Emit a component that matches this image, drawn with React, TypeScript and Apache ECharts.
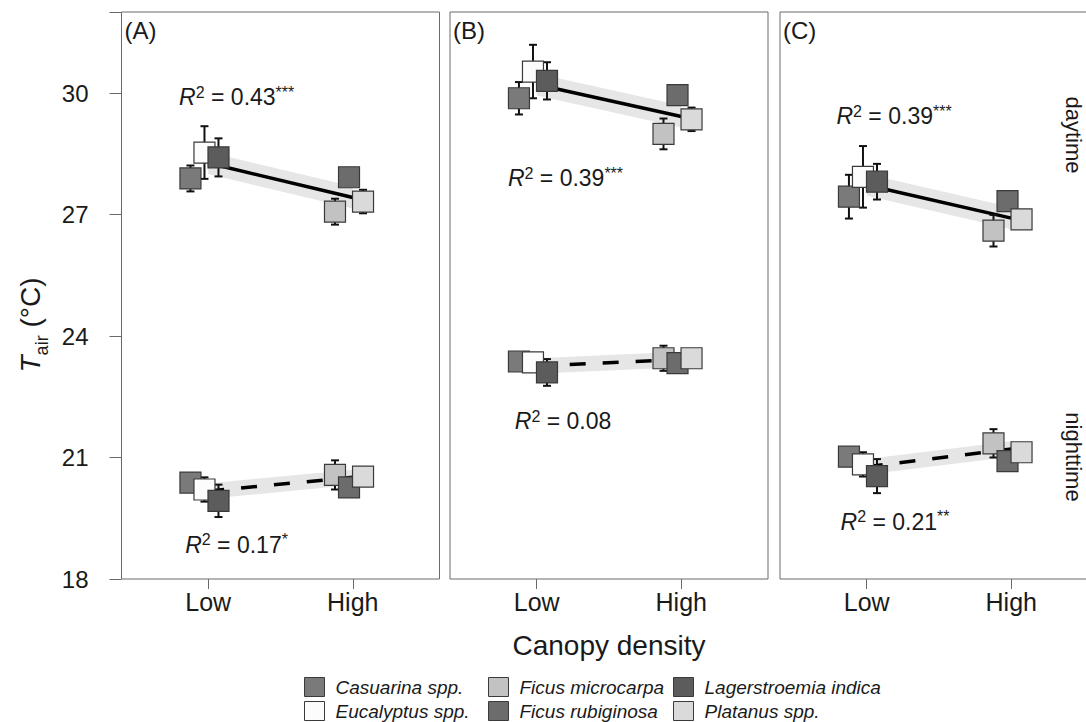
import React, { useEffect, useRef } from "react";
import * as echarts from "echarts";

// ---------- data ----------
const PANEL_LABELS = ["(A)", "(B)", "(C)"];
const DENSITY_LABELS = ["Low", "High"];
const DENSITY_VALUES = [1, 2];
const Y_MIN = 18;
const Y_MAX = 32;
const Y_STEP = 3;

const SPECIES = [
  "Casuarina spp.",
  "Eucalyptus spp.",
  "Ficus microcarpa",
  "Ficus rubiginosa",
  "Lagerstroemia indica",
  "Platanus spp.",
];
// 1 = Low canopy density, 2 = High canopy density
const SPECIES_DENSITY = [1, 1, 2, 2, 1, 2];
const SPECIES_COLORS = ["#7a7a7a", "#fcfcfc", "#c2c2c2", "#6c6c6c", "#5c5c5c", "#dadada"];

// daytime means / standard errors (species order as SPECIES)
const DAY_MEAN_A = [27.89, 28.53, 27.07, 27.92, 28.41, 27.32];
const DAY_SE_A = [0.32, 0.65, 0.32, 0.15, 0.47, 0.29];
const DAY_MEAN_B = [29.87, 30.53, 28.99, 29.95, 30.3, 29.35];
const DAY_SE_B = [0.4, 0.66, 0.38, 0.12, 0.46, 0.29];
const DAY_MEAN_C = [27.44, 27.93, 26.6, 27.33, 27.81, 26.88];
const DAY_SE_C = [0.54, 0.76, 0.39, 0.12, 0.44, 0.15];

// nighttime means / standard errors
const NIGHT_MEAN_A = [20.38, 20.21, 20.57, 20.26, 19.93, 20.53];
const NIGHT_SE_A = [0.15, 0.3, 0.36, 0.12, 0.4, 0.12];
const NIGHT_MEAN_B = [23.37, 23.35, 23.45, 23.33, 23.1, 23.45];
const NIGHT_SE_B = [0.1, 0.2, 0.31, 0.1, 0.33, 0.1];
const NIGHT_MEAN_C = [21.02, 20.83, 21.35, 20.91, 20.54, 21.13];
const NIGHT_SE_C = [0.12, 0.3, 0.35, 0.12, 0.42, 0.12];

// fitted regression values at Low / High, and band half-widths
const FIT_DAY = [
  [28.27, 27.42],
  [30.21, 29.42],
  [27.73, 26.91],
];
const FIT_NIGHT = [
  [20.17, 20.51],
  [23.26, 23.42],
  [20.77, 21.21],
];
const BAND_DAY = [0.27, 0.27, 0.27];
const BAND_NIGHT = [0.19, 0.19, 0.19];

const R2_DAY = ["0.43", "0.39", "0.39"];
const R2_DAY_SIG = ["***", "***", "***"];
const R2_NIGHT = ["0.17", "0.08", "0.21"];
const R2_NIGHT_SIG = ["*", "", "**"];
// annotation anchor positions in data units [x, y]
const R2_DAY_AT = [
  [1.197, 29.9],
  [1.199, 27.9],
  [1.189, 29.43],
];
const R2_NIGHT_AT = [
  [1.196, 18.84],
  [1.182, 21.9],
  [1.196, 19.41],
];

const DAY_MEANS = [DAY_MEAN_A, DAY_MEAN_B, DAY_MEAN_C];
const DAY_SES = [DAY_SE_A, DAY_SE_B, DAY_SE_C];
const NIGHT_MEANS = [NIGHT_MEAN_A, NIGHT_MEAN_B, NIGHT_MEAN_C];
const NIGHT_SES = [NIGHT_SE_A, NIGHT_SE_B, NIGHT_SE_C];

// ---------- layout ----------
const FONT = "'Liberation Sans', Arial, Helvetica, sans-serif";
const TXT = "#1a1a1a";
const GRID_LEFTS = [121.5, 450, 780];
const GRID_W = 318;
const GRID_TOP = 12;
const GRID_H = 567;
const X_MIN = 0.4;
const X_MAX = 2.6;
const DODGE_START = -0.123;
const DODGE_STEP = 0.097;

function dodgeX(s: number): number {
  let slot = 0;
  for (let k = 0; k < s; k++) if (SPECIES_DENSITY[k] === SPECIES_DENSITY[s]) slot++;
  return SPECIES_DENSITY[s] + DODGE_START + slot * DODGE_STEP;
}

function buildOption(): any {
  const grids = GRID_LEFTS.map((left) => ({
    left,
    top: GRID_TOP,
    width: GRID_W,
    height: GRID_H,
    show: true,
    borderColor: "#6a6a6a",
    borderWidth: 1,
    backgroundColor: "transparent",
    containLabel: false,
    outerBoundsMode: "none",
  }));

  const xAxes = GRID_LEFTS.map((_, p) => ({
    type: "value",
    gridIndex: p,
    min: X_MIN,
    max: X_MAX,
    axisLine: { show: false },
    splitLine: { show: false },
    axisTick: {
      show: true,
      customValues: DENSITY_VALUES,
      length: 10,
      lineStyle: { color: "#6a6a6a", width: 1 },
    },
    axisLabel: {
      show: true,
      customValues: DENSITY_VALUES,
      formatter: (v: number) => DENSITY_LABELS[DENSITY_VALUES.indexOf(Math.round(v))] ?? "",
      fontSize: 25,
      fontFamily: FONT,
      color: TXT,
      margin: 10,
    },
    name: p === 1 ? "Canopy density" : "",
    nameLocation: "middle",
    nameGap: 52,
    nameTextStyle: { fontSize: 28, fontFamily: FONT, color: TXT },
  }));

  const yAxes = GRID_LEFTS.map((_, p) => ({
    type: "value",
    gridIndex: p,
    min: Y_MIN,
    max: Y_MAX,
    interval: Y_STEP,
    axisLine: { show: false },
    splitLine: { show: false },
    axisTick: {
      show: p === 0,
      length: 12,
      lineStyle: { color: "#6a6a6a", width: 1 },
    },
    axisLabel: {
      show: p === 0,
      fontSize: 24,
      fontFamily: FONT,
      color: TXT,
      margin: 33,
      formatter: (v: number) => (v <= 30 ? String(v) : ""),
    },
  }));

  const series: any[] = [];

  const addPeriod = (
    p: number,
    means: number[],
    ses: number[],
    fit: number[],
    band: number,
    dashed: boolean,
    r2: string,
    sig: string,
    at: number[]
  ) => {
    // confidence band
    series.push({
      type: "custom",
      xAxisIndex: p,
      yAxisIndex: p,
      z: 1,
      silent: true,
      data: [[DENSITY_VALUES[0], fit[0], DENSITY_VALUES[1], fit[1], band]],
      renderItem: (params: any, api: any) => {
        const x0 = api.value(0), y0 = api.value(1), x1 = api.value(2), y1 = api.value(3), h = api.value(4);
        const pts = [
          api.coord([x0, y0 - h]),
          api.coord([x1, y1 - h]),
          api.coord([x1, y1 + h]),
          api.coord([x0, y0 + h]),
        ];
        return { type: "polygon", shape: { points: pts }, style: { fill: "#e6e6e6" } };
      },
    });
    // regression line
    series.push({
      type: "line",
      xAxisIndex: p,
      yAxisIndex: p,
      z: 2,
      silent: true,
      symbol: "none",
      data: [
        [DENSITY_VALUES[0], fit[0]],
        [DENSITY_VALUES[1], fit[1]],
      ],
      lineStyle: { color: "#000", width: 3.5, type: dashed ? [16, 17] : "solid", cap: "butt", opacity: 1 },
    });
    // error bars
    series.push({
      type: "custom",
      xAxisIndex: p,
      yAxisIndex: p,
      z: 3,
      silent: true,
      data: SPECIES.map((_, s) => [dodgeX(s), means[s], means[s] - ses[s], means[s] + ses[s]]),
      encode: { x: 0, y: [1, 2, 3] },
      renderItem: (params: any, api: any) => {
        const x = api.value(0);
        const lo = api.coord([x, api.value(2)]);
        const hi = api.coord([x, api.value(3)]);
        const w = 4;
        const st = { stroke: "#111", lineWidth: 2 };
        return {
          type: "group",
          children: [
            { type: "line", shape: { x1: lo[0], y1: lo[1], x2: hi[0], y2: hi[1] }, style: st },
            { type: "line", shape: { x1: lo[0] - w, y1: lo[1], x2: lo[0] + w, y2: lo[1] }, style: st },
            { type: "line", shape: { x1: hi[0] - w, y1: hi[1], x2: hi[0] + w, y2: hi[1] }, style: st },
          ],
        };
      },
    });
    // mean squares
    SPECIES.forEach((name, s) => {
      series.push({
        type: "scatter",
        name,
        xAxisIndex: p,
        yAxisIndex: p,
        z: 4,
        silent: true,
        symbol: "rect",
        symbolSize: 21,
        data: [[dodgeX(s), means[s]]],
        itemStyle: { color: SPECIES_COLORS[s], borderColor: "#3a3a3a", borderWidth: 1.2, opacity: 1 },
      });
    });
    // R² annotation
    series.push({
      type: "scatter",
      xAxisIndex: p,
      yAxisIndex: p,
      z: 5,
      silent: true,
      symbolSize: 1,
      itemStyle: { color: "rgba(255,255,255,0)", opacity: 1 },
      data: [at],
      label: {
        show: true,
        position: "inside",
        color: TXT,
        opacity: 1,
        formatter: "{i|R}{sup|2}{n| = " + r2 + "}" + (sig ? "{sup|" + sig + "}" : ""),
        rich: {
          i: { fontSize: 23, fontStyle: "italic", fontFamily: FONT, color: TXT, lineHeight: 26 },
          n: { fontSize: 23, fontFamily: FONT, color: TXT, lineHeight: 26 },
          sup: { fontSize: 16, fontFamily: FONT, color: TXT, verticalAlign: "top", lineHeight: 16 },
        },
      },
    });
  };

  for (let p = 0; p < 3; p++) {
    addPeriod(p, DAY_MEANS[p], DAY_SES[p], FIT_DAY[p], BAND_DAY[p], false, R2_DAY[p], R2_DAY_SIG[p], R2_DAY_AT[p]);
    addPeriod(p, NIGHT_MEANS[p], NIGHT_SES[p], FIT_NIGHT[p], BAND_NIGHT[p], true, R2_NIGHT[p], R2_NIGHT_SIG[p], R2_NIGHT_AT[p]);
  }

  // legend: 3 columns x 2 rows, filled column by column
  const legendLefts = [304, 488, 673];
  const legendTops = [677, 701];
  const legends = SPECIES.map((name, s) => ({
    show: true,
    orient: "horizontal",
    left: legendLefts[Math.floor(s / 2)],
    top: legendTops[s % 2],
    padding: 0,
    itemWidth: 20,
    itemHeight: 19,
    icon: "rect",
    selectedMode: false,
    data: [name],
    itemStyle: { borderColor: "#3a3a3a", borderWidth: 1 },
    textStyle: { fontSize: 19, fontStyle: "italic", fontFamily: FONT, color: TXT, padding: [0, 0, 0, 6] },
  }));

  const graphic: any[] = [];
  PANEL_LABELS.forEach((t, p) => {
    graphic.push({
      type: "text",
      left: GRID_LEFTS[p] + 3,
      top: GRID_TOP + 6,
      style: { text: t, fontSize: 24, fontFamily: FONT, fill: TXT },
      silent: true,
    });
  });
  graphic.push({
    type: "text",
    x: 1073,
    y: 135,
    rotation: -Math.PI / 2,
    style: { text: "daytime", fontSize: 22, fontFamily: FONT, fill: TXT, align: "center", verticalAlign: "middle" },
    silent: true,
  });
  graphic.push({
    type: "text",
    x: 1073,
    y: 457,
    rotation: -Math.PI / 2,
    style: { text: "nighttime", fontSize: 22, fontFamily: FONT, fill: TXT, align: "center", verticalAlign: "middle" },
    silent: true,
  });
  // y-axis title
  graphic.push({
    type: "text",
    x: 30,
    y: 325,
    rotation: Math.PI / 2,
    style: {
      text: "{t|T}{s|air}{n| (°C)}",
      align: "center",
      verticalAlign: "middle",
      fontFamily: FONT,
      fill: TXT,
      rich: {
        t: { fontSize: 28, fontStyle: "italic", fontFamily: FONT, fill: TXT, lineHeight: 32 },
        s: { fontSize: 18, fontFamily: FONT, fill: TXT, verticalAlign: "bottom", lineHeight: 18, padding: [0, 0, -5, 0] },
        n: { fontSize: 28, fontFamily: FONT, fill: TXT, lineHeight: 32 },
      },
    },
    silent: true,
  });

  return {
    animation: false,
    backgroundColor: "#ffffff",
    textStyle: { fontFamily: FONT },
    grid: grids,
    xAxis: xAxes,
    yAxis: yAxes,
    legend: legends,
    series,
    graphic,
    tooltip: { show: false },
  };
}

export default function App() {
  const ref = useRef<HTMLDivElement>(null);
  useEffect(() => {
    if (!ref.current) return;
    const chart = echarts.init(ref.current, undefined, { renderer: "svg" });
    chart.setOption(buildOption());
    return () => chart.dispose();
  }, []);
  return (
    <div
      ref={ref}
      style={{ position: "absolute", left: 0, top: 0, width: 1086, height: 722, background: "#fff" }}
    />
  );
}
